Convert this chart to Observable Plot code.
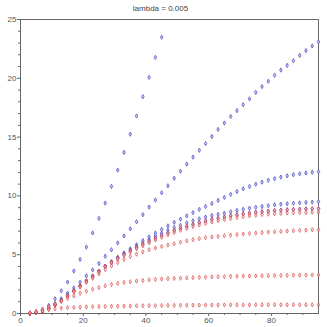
<!DOCTYPE html>
<html>
<head>
<meta charset="utf-8">
<script src="https://cdn.jsdelivr.net/npm/d3@7"></script>
<script src="https://cdn.jsdelivr.net/npm/@observablehq/plot@0.6"></script>
<style>
  html, body { margin: 0; padding: 0; background: #fff; }
  #chart svg { display: block; }
</style>
</head>
<body>
<div id="chart"></div>
<script>
const titleText = "lambda = 0.005";
const xTicks = [0, 20, 40, 60, 80];
const xMinor = [5, 10, 15, 25, 30, 35, 45, 50, 55, 65, 70, 75, 85, 90];
const yTicks = [0, 5, 10, 15, 20, 25];
const yMinor = [1,2,3,4,6,7,8,9,11,12,13,14,16,17,18,19,21,22,23,24];

const xValues = [3,5,7,9,11,13,15,17,19,21,23,25,27,29,31,33,35,37,39,41,43,45,47,49,51,53,55,57,59,61,63,65,67,69,71,73,75,77,79,81,83,85,87,89,91,93,95];

// blue series
const blueA = [0.02,0.08,0.25,0.68,1.25,1.93,2.67,3.61,4.6,5.65,6.85,8.08,9.39,10.8,12.2,13.7,15.25,16.8,18.43,20.08,21.78,23.49];
const blueB = [0.03,0.12,0.3,0.54,0.85,1.25,1.73,2.18,2.66,3.2,3.71,4.25,4.87,5.42,6.0,6.6,7.2,7.8,8.4,9.05,9.65,10.26,10.86,11.5,12.1,12.7,13.3,13.88,14.45,15.05,15.65,16.2,16.75,17.25,17.75,18.25,18.8,19.3,19.75,20.25,20.7,21.1,21.5,21.95,22.35,22.75,23.1];
const blueC = [0.01,0.08,0.22,0.45,0.75,1.1,1.5,1.92,2.36,2.76,3.18,3.6,4.02,4.4,4.78,5.15,5.5,5.85,6.2,6.52,6.85,7.15,7.45,7.75,8.02,8.3,8.58,8.85,9.1,9.35,9.62,9.88,10.13,10.37,10.6,10.8,11.0,11.17,11.33,11.47,11.6,11.71,11.8,11.88,11.95,12.01,12.07];
const blueD = [0.01,0.08,0.22,0.45,0.75,1.1,1.5,1.92,2.36,2.76,3.18,3.6,4.02,4.38,4.74,5.08,5.4,5.72,6.02,6.3,6.58,6.84,7.08,7.3,7.5,7.7,7.88,8.05,8.2,8.33,8.43,8.53,8.65,8.76,8.86,8.95,9.03,9.1,9.17,9.24,9.29,9.33,9.37,9.41,9.44,9.47,9.52];
const blueE = [0.01,0.08,0.22,0.45,0.75,1.1,1.5,1.92,2.36,2.76,3.18,3.6,4.02,4.36,4.7,5.02,5.32,5.6,5.88,6.14,6.4,6.64,6.86,7.06,7.24,7.42,7.58,7.73,7.87,8.0,8.1,8.2,8.3,8.39,8.47,8.54,8.6,8.66,8.71,8.75,8.79,8.82,8.85,8.87,8.89,8.9,8.92];

// red series
const redE = [0.01,0.08,0.22,0.45,0.75,1.1,1.5,1.92,2.36,2.76,3.18,3.6,4.02,4.36,4.7,5.02,5.32,5.6,5.88,6.14,6.4,6.64,6.86,7.06,7.24,7.42,7.58,7.73,7.87,8.0,8.1,8.2,8.3,8.39,8.47,8.54,8.6,8.66,8.71,8.75,8.79,8.82,8.85,8.87,8.89,8.9,8.92];
const redF = [0.01,0.07,0.21,0.43,0.73,1.07,1.46,1.88,2.3,2.7,3.1,3.52,3.95,4.3,4.62,4.93,5.22,5.5,5.76,6.01,6.25,6.48,6.69,6.89,7.07,7.24,7.39,7.53,7.66,7.78,7.89,7.99,8.08,8.16,8.23,8.3,8.36,8.41,8.45,8.49,8.52,8.55,8.57,8.59,8.6,8.61,8.62];
const redG = [0.01,0.07,0.2,0.42,0.72,1.05,1.45,1.85,2.25,2.65,3.0,3.37,3.74,4.05,4.33,4.59,4.85,5.05,5.24,5.42,5.57,5.7,5.82,5.93,6.06,6.18,6.28,6.37,6.45,6.5,6.56,6.61,6.66,6.71,6.76,6.8,6.84,6.88,6.92,6.95,6.98,7.01,7.04,7.07,7.09,7.12,7.14];
const redH = [0.05,0.18,0.38,0.6,0.82,1.05,1.27,1.5,1.72,1.9,2.06,2.2,2.36,2.47,2.56,2.64,2.7,2.76,2.81,2.86,2.9,2.93,2.96,2.98,3.0,3.03,3.05,3.07,3.09,3.11,3.13,3.14,3.16,3.17,3.18,3.19,3.2,3.21,3.22,3.23,3.24,3.25,3.26,3.26,3.27,3.28,3.29];
const redI = [0.05,0.12,0.22,0.32,0.4,0.46,0.5,0.52,0.54,0.56,0.58,0.59,0.6,0.61,0.62,0.63,0.64,0.65,0.66,0.67,0.67,0.68,0.69,0.69,0.7,0.7,0.71,0.71,0.72,0.72,0.72,0.73,0.73,0.73,0.73,0.73,0.74,0.74,0.74,0.74,0.74,0.74,0.74,0.74,0.74,0.74,0.74];

const blueSeries = [blueA, blueB, blueC, blueD, blueE];
const redSeries = [redE, redF, redG, redH, redI];

function toPoints(list) {
  const out = [];
  list.forEach((vals, s) => vals.forEach((v, i) => out.push({x: xValues[i], y: v, s})));
  return out;
}
const bluePts = toPoints(blueSeries);
const redPts = toPoints(redSeries);

const chart = Plot.plot({
  width: 327,
  height: 327,
  marginTop: 19,
  marginLeft: 20,
  marginRight: 9,
  marginBottom: 14,
  x: {domain: [0, 95], label: null},
  y: {domain: [0, 25], label: null},
  style: {fontFamily: "Liberation Sans, Arial, sans-serif", fontSize: "8px", color: "#444", background: "#fff", overflow: "visible"},
  marks: [
    Plot.frame({stroke: "#666"}),
    Plot.axisX(xTicks, {tickSize: 3, tickPadding: 1, stroke: "#666", fill: "#555", fontSize: 8, label: null}),
    Plot.axisX(xMinor, {tickSize: 2, tickFormat: () => "", stroke: "#666", label: null}),
    Plot.axisY(yTicks, {tickSize: 3, tickPadding: 1, stroke: "#666", fill: "#555", fontSize: 8, label: null}),
    Plot.axisY(yMinor, {tickSize: 2, tickFormat: () => "", stroke: "#666", label: null}),
    Plot.dot(bluePts, {x: "x", y: "y", symbol: "diamond", r: 1.3, stroke: "#5555cc", fill: "#ccccf0", strokeOpacity: 0.8, strokeWidth: 1}),
    Plot.dot(redPts, {x: "x", y: "y", symbol: "diamond", r: 1.3, stroke: "#d84444", fill: "#f0cccc", strokeOpacity: 0.65, fillOpacity: 0.6, strokeWidth: 1}),
    Plot.text([titleText], {frameAnchor: "top", dy: -14, dx: -9, fontSize: 8, fill: "#444"})
  ]
});
document.getElementById("chart").appendChild(chart);
</script>
</body>
</html>
